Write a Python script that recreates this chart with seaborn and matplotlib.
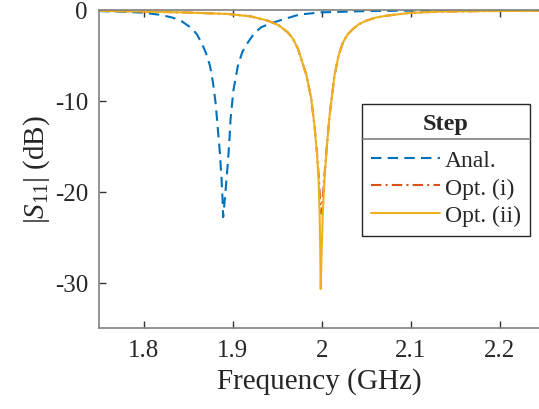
import matplotlib
matplotlib.use("Agg")
import matplotlib.pyplot as plt
import seaborn as sns
from matplotlib.lines import Line2D

# |S11| curves (GHz, dB)
anal_f = [1.75, 1.78, 1.80, 1.82, 1.833, 1.843, 1.854, 1.860, 1.865, 1.870, 1.8745,
          1.878, 1.881, 1.8838, 1.8857, 1.8876, 1.8887, 1.8894, 1.8913, 1.8932, 1.895,
          1.8965, 1.8977, 1.901, 1.906, 1.911, 1.917, 1.924, 1.932, 1.942, 1.9546,
          1.975, 1.9995, 2.05, 2.1, 2.15, 2.26]
anal_db = [-0.12, -0.2, -0.3, -0.55, -0.85, -1.25, -2.0, -2.7, -3.6, -4.7, -6.1,
           -8.0, -10.3, -13.5, -15.7, -18.6, -20.8, -22.8, -20.8, -18.6, -16.4,
           -14.2, -12.0, -8.8, -6.1, -4.6, -3.6, -2.6, -1.9, -1.5, -1.1,
           -0.5, -0.26, -0.12, -0.07, -0.04, -0.02]

opt1_f = [1.75, 1.80, 1.85, 1.895, 1.92, 1.9398, 1.952, 1.962, 1.968, 1.9735,
          1.983, 1.9883, 1.992, 1.9946, 1.9967, 1.9982, 1.9995, 2.0010, 2.0030,
          2.0058, 2.0088, 2.0144, 2.019, 2.0238, 2.029, 2.035, 2.042, 2.05, 2.06,
          2.0723, 2.098, 2.132, 2.18, 2.26]
opt1_db = [-0.1, -0.17, -0.28, -0.44, -0.7, -1.18, -1.7, -2.46, -3.2, -4.3,
           -7.2, -9.8, -12.8, -15.5, -18.3, -21.0, -22.4, -21.0, -18.3,
           -15.0, -11.7, -7.2, -5.0, -3.6, -2.7, -2.1, -1.55, -1.18, -0.85,
           -0.63, -0.33, -0.18, -0.12, -0.08]

opt2_f = [1.75, 1.80, 1.85, 1.895, 1.92, 1.9398, 1.952, 1.962, 1.968, 1.9735,
          1.983, 1.9883, 1.992, 1.9946, 1.9965, 1.9977, 1.9984, 1.9989, 2.0000,
          2.0013, 2.0032, 2.0058, 2.0088, 2.0144, 2.019, 2.0238, 2.029, 2.035,
          2.042, 2.05, 2.06, 2.0723, 2.098, 2.132, 2.18, 2.26]
opt2_db = [-0.1, -0.17, -0.28, -0.44, -0.7, -1.18, -1.7, -2.46, -3.2, -4.3,
           -7.2, -9.8, -12.8, -15.7, -18.6, -22.3, -26.7, -30.7, -26.5,
           -22.3, -18.6, -15.0, -11.7, -7.2, -5.0, -3.6, -2.7, -2.1,
           -1.55, -1.18, -0.85, -0.63, -0.33, -0.18, -0.12, -0.08]

labels = ["Anal.", "Opt. (i)", "Opt. (ii)"]
colors = ["#0072BD", "#D95319", "#EDB120"]

sns.set_style("ticks")
plt.rcParams["font.family"] = ["Liberation Serif", "DejaVu Serif"]
plt.rcParams["mathtext.fontset"] = "custom"
plt.rcParams["mathtext.rm"] = "Liberation Serif"
plt.rcParams["mathtext.it"] = "Liberation Serif:italic"
plt.rcParams["axes.unicode_minus"] = False

fig = plt.figure(figsize=(5.39, 4.10), dpi=100)
ax = fig.add_axes([99 / 539, 1 - 329 / 410, 1 - 99 / 539, 318 / 410])

sns.lineplot(x=anal_f, y=anal_db, ax=ax, color=colors[0], lw=1.5,
             sort=False, label=labels[0])
sns.lineplot(x=opt1_f, y=opt1_db, ax=ax, color=colors[1], lw=1.5,
             sort=False, label=labels[1])
sns.lineplot(x=opt2_f, y=opt2_db, ax=ax, color=colors[2], lw=1.5,
             sort=False, label=labels[2])
ax.lines[0].set_dashes((5, 3))
ax.lines[1].set_dashes((5, 2, 1, 2))

ax.set_xlim(1.75, 2.244)
ax.set_ylim(-35, 0)
ax.set_xticks([1.8, 1.9, 2.0, 2.1, 2.2])
ax.set_xticklabels(["1.8", "1.9", "2", "2.1", "2.2"])
ax.set_yticks([0, -10, -20, -30])
ax.tick_params(axis="both", which="major", direction="in", labelsize=18,
               labelcolor="#262626", color="#333333", length=5, width=1.0,
               top=True, bottom=True, left=True, right=False, pad=8)
for s in ["left", "bottom", "top"]:
    ax.spines[s].set_color("#808080")
    ax.spines[s].set_linewidth(1.2)
ax.spines["right"].set_visible(False)
ax.set_xlabel("Frequency (GHz)", fontsize=21, color="#262626", labelpad=4)
ax.set_ylabel(r"|$S_{11}$| (dB)", fontsize=21, color="#262626", labelpad=2)

leg = ax.legend(loc="upper left", bbox_to_anchor=((362 - 99) / 440, 1 - (105 - 11) / 318),
                title="Step", fontsize=17, title_fontproperties={"weight": "bold", "size": 17.5},
                frameon=True, fancybox=False, edgecolor="#262626", framealpha=1,
                handlelength=2.9, handletextpad=0.2, labelspacing=0.25,
                borderpad=0.4, borderaxespad=0)
leg.get_frame().set_linewidth(1.0)
leg._legend_box.sep = 11
for h in leg.legend_handles:
    h.set_linewidth(1.5)

# separator under legend title
fig.canvas.draw()
r = fig.canvas.get_renderer()
fb = leg.get_frame().get_window_extent(r)
tb = leg.get_title().get_window_extent(r)
inv = fig.transFigure.inverted()
x0, y0 = inv.transform((fb.x0, tb.y0 - 5))
x1, _ = inv.transform((fb.x1, tb.y0 - 5))
fig.add_artist(Line2D([x0, x1], [y0, y0], color="#808080", lw=1.2,
                      transform=fig.transFigure, zorder=10))

fig.savefig("out.png", dpi=100)
